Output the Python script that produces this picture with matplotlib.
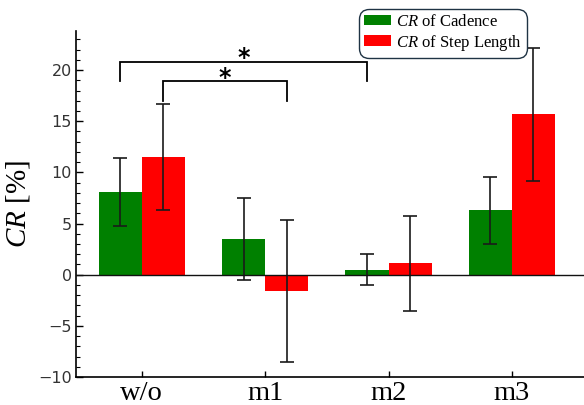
import matplotlib
matplotlib.use("Agg")
import matplotlib.pyplot as plt
import numpy as np
from matplotlib.ticker import MultipleLocator

plt.rcParams["mathtext.fontset"] = "custom"
plt.rcParams["mathtext.it"] = "Liberation Serif:italic"
plt.rcParams["mathtext.rm"] = "Liberation Serif"

# Conditions and measured change rates (%)
conditions = ["w/o", "m1", "m2", "m3"]
cadence_mean = [8.1, 3.5, 0.5, 6.3]
cadence_sd = [3.3, 4.0, 1.55, 3.25]
step_mean = [11.5, -1.6, 1.1, 15.7]
step_sd = [5.2, 6.95, 4.6, 6.5]

# Significance pairs: (condition index, series offset sign) for each end
sig_pairs = [((0, -1), (2, -1), 20.8, 18.9), ((0, 1), (1, 1), 18.9, 17.0)]

serif = ["Liberation Serif", "DejaVu Serif"]

fig = plt.figure(figsize=(5.84, 4.05), dpi=100)
ax = fig.add_axes([0.130, 0.069, 0.870, 0.854])

x = np.arange(len(conditions))
w = 0.35

err_kw = dict(ecolor="#1a1a1a", elinewidth=1.2, capsize=5, capthick=1.2)
ax.bar(x - w / 2, cadence_mean, w, yerr=cadence_sd, color="#008000",
       error_kw=err_kw, label=r"$CR$ of Cadence", zorder=2)
ax.bar(x + w / 2, step_mean, w, yerr=step_sd, color="#ff0000",
       error_kw=err_kw, label=r"$CR$ of Step Length", zorder=2)

ax.axhline(0, color="#111111", lw=1.0, zorder=3)

# Significance brackets
for (i1, s1), (i2, s2), ytop, yend in sig_pairs:
    x1 = x[i1] + s1 * w / 2
    x2 = x[i2] + s2 * w / 2
    ax.plot([x1, x1, x2, x2], [yend, ytop, ytop, yend], color="black",
            lw=1.3, zorder=4, solid_joinstyle="miter")
    ax.text((x1 + x2) / 2, ytop - 0.35, "*", ha="center", va="baseline",
            fontsize=17, fontweight="bold", color="black")

ax.set_xlim(-0.535, 3.585)
ax.set_ylim(-10, 23.8)
ax.yaxis.set_major_locator(MultipleLocator(5))
ax.yaxis.set_minor_locator(MultipleLocator(1))

ax.set_xticks(x)
ax.set_xticklabels(conditions, fontfamily=serif, fontsize=20.5)
ax.tick_params(axis="x", direction="in", length=4, width=1, pad=3)
ax.tick_params(axis="y", which="major", direction="in", length=5, width=1,
               labelsize=11.5, labelcolor="#333333", pad=3)
ax.tick_params(axis="y", which="minor", direction="in", length=3, width=0.8)

for side in ("top", "right"):
    ax.spines[side].set_visible(False)
for side in ("left", "bottom"):
    ax.spines[side].set_linewidth(1.2)

ax.set_ylabel(r"$CR$ [%]", fontfamily=serif, fontsize=21, labelpad=4)

leg = ax.legend(loc="upper left", bbox_to_anchor=(0.557, 1.064),
                prop={"family": serif, "size": 12}, frameon=True,
                fancybox=True, edgecolor="#1f3344", framealpha=1,
                handlelength=1.6, handleheight=0.6, handletextpad=0.3,
                borderpad=0.3, borderaxespad=0, labelspacing=0.15)
leg.get_frame().set_linewidth(1.0)
leg.get_frame().set_boxstyle("round", pad=0, rounding_size=0.6)

fig.savefig("out.png", dpi=100)
